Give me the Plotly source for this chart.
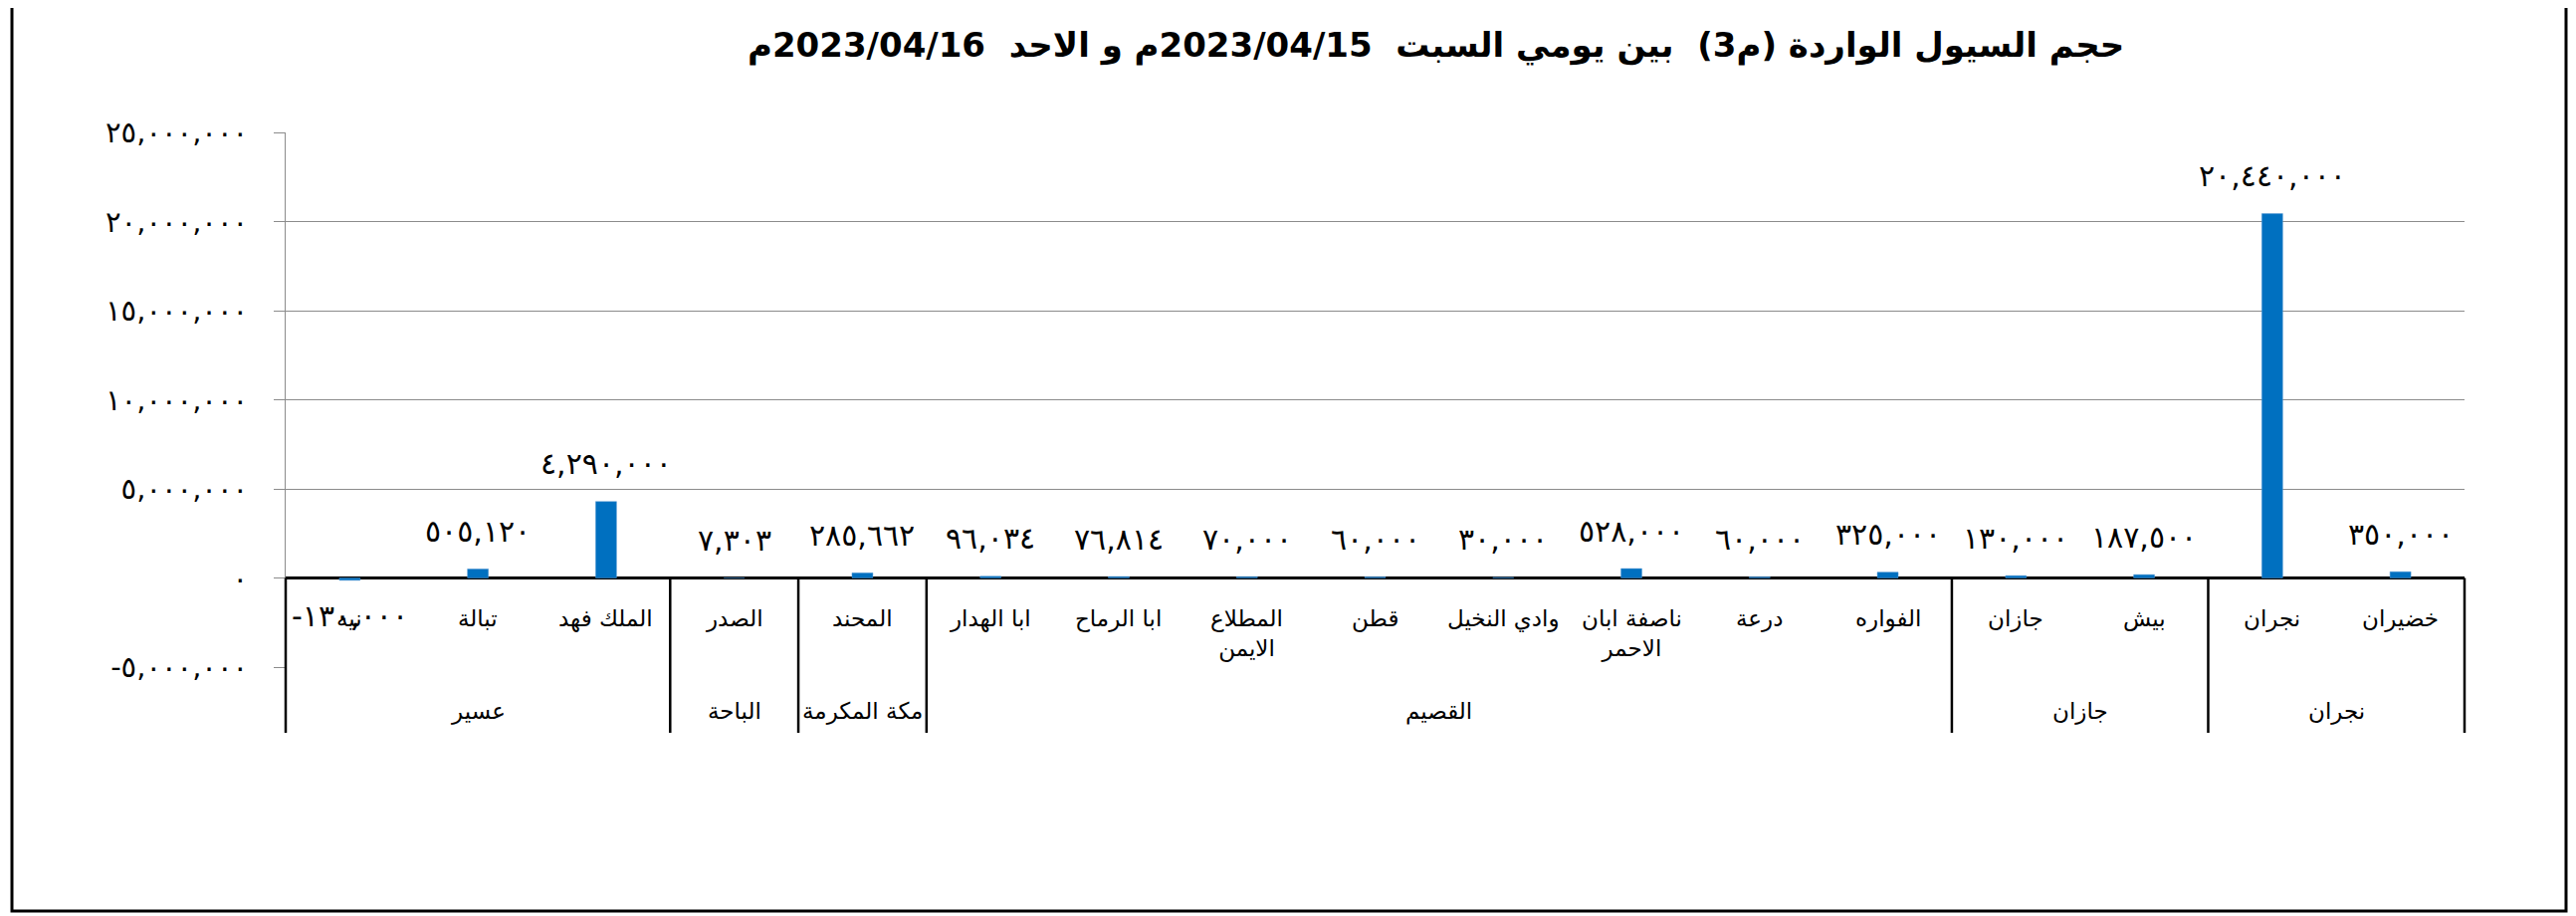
import plotly.graph_objects as go

# ---- data ----
regions = ["عسير", "الباحة", "مكة المكرمة", "القصيم", "جازان", "نجران"]
region_counts = [3, 1, 1, 8, 2, 2]
sites = ["نيه", "تبالة", "الملك فهد", "الصدر", "المحند", "ابا الهدار", "ابا الرماح",
         "المطلاع<br>الايمن", "قطن", "وادي النخيل", "ناصفة ابان<br>الاحمر", "درعة",
         "الفواره", "جازان", "بيش", "نجران", "خضيران"]
volumes = [-130000, 505120, 4290000, 7303, 285662, 96034, 76814, 70000, 60000,
           30000, 528000, 60000, 325000, 130000, 187500, 20440000, 350000]
tick_vals = [-5000000, 0, 5000000, 10000000, 15000000, 20000000, 25000000]

title_text = "حجم السيول الواردة (م3)  بين يومي السبت  2023/04/15م و الاحد  2023/04/16م"

AR = str.maketrans("0123456789", "٠١٢٣٤٥٦٧٨٩")


def ar_num(v):
    s = f"{abs(v):,}".translate(AR)
    return ("-" + s) if v < 0 else s


OFF = 8  # page body margin
W, H = 2578, 910
L, R, T, B = 287 - OFF, 2476 - OFF, 133 - OFF, 670 - OFF   # plot area in figure pixels
FONT = "DejaVu Sans, Arial, sans-serif"


def py(ypx):
    # page pixel -> paper y
    return (B - (ypx - OFF)) / (B - T)


def pxp(xpx):
    return ((xpx - OFF) - L) / (R - L)


n = len(sites)
xidx = list(range(n))

fig = go.Figure()
fig.add_trace(go.Bar(
    x=xidx, y=volumes,
    marker=dict(color="#0070C0", line=dict(color="#5B9BD5", width=0.5)),
    hoverinfo="skip",
))

annotations = []
# data labels
for i, v in enumerate(volumes):
    annotations.append(dict(
        x=i, y=v, xref="x", yref="y", text=ar_num(v), showarrow=False,
        yshift=38 if v >= 0 else -36, xanchor="center", yanchor="middle",
        font=dict(family=FONT, size=30, color="black"),
    ))
# site labels
for i, s in enumerate(sites):
    annotations.append(dict(
        x=i, y=py(606), xref="x", yref="paper", text=s, showarrow=False,
        xanchor="center", yanchor="top", align="center",
        font=dict(family=FONT, size=23, color="black"),
    ))
# region labels & boundaries
shapes = []
start = 0
bounds = [0]
for reg, cnt in zip(regions, region_counts):
    annotations.append(dict(
        x=(start + cnt / 2) / n, y=py(714), xref="paper", yref="paper", text=reg,
        showarrow=False, xanchor="center", yanchor="middle",
        font=dict(family=FONT, size=23, color="black"),
    ))
    start += cnt
    bounds.append(start)
zero_p = (0 - tick_vals[0]) / (tick_vals[-1] - tick_vals[0])
for b in bounds:
    shapes.append(dict(type="line", xref="paper", yref="paper",
                       x0=b / n, x1=b / n, y0=py(736), y1=zero_p,
                       line=dict(color="black", width=2.5)))
# title
annotations.append(dict(
    x=pxp(1442), y=py(46), xref="paper", yref="paper", text="<b>" + title_text + "</b>",
    showarrow=False, xanchor="center", yanchor="middle",
    font=dict(family=FONT, size=34, color="black"),
))
# outer frame
shapes.append(dict(type="rect", xref="paper", yref="paper",
                   x0=pxp(12), x1=pxp(2578), y0=py(915), y1=py(5),
                   line=dict(color="black", width=3), fillcolor="rgba(0,0,0,0)", layer="below"))

fig.update_layout(
    width=W, height=H,
    margin=dict(l=L, r=W - R, t=T, b=H - B, pad=0),
    paper_bgcolor="white", plot_bgcolor="white",
    bargap=0.837, showlegend=False,
    annotations=annotations, shapes=shapes,
    font=dict(family=FONT, color="black"),
    xaxis=dict(range=[-0.5, n - 0.5], showticklabels=False, showgrid=False,
               zeroline=False, showline=False, ticks=""),
    yaxis=dict(range=[tick_vals[0], tick_vals[-1]], tickvals=tick_vals,
               ticktext=[ar_num(v) for v in tick_vals],
               tickfont=dict(family=FONT, size=29, color="black"),
               showgrid=True, gridcolor="#8c8c8c", gridwidth=1.2,
               ticks="outside", ticklen=11, tickcolor="#8c8c8c", tickwidth=1.2,
               ticklabelstandoff=20,
               showline=True, linecolor="#8c8c8c", linewidth=1.2,
               zeroline=True, zerolinecolor="black", zerolinewidth=2.5),
)

fig.write_html("out.html")
